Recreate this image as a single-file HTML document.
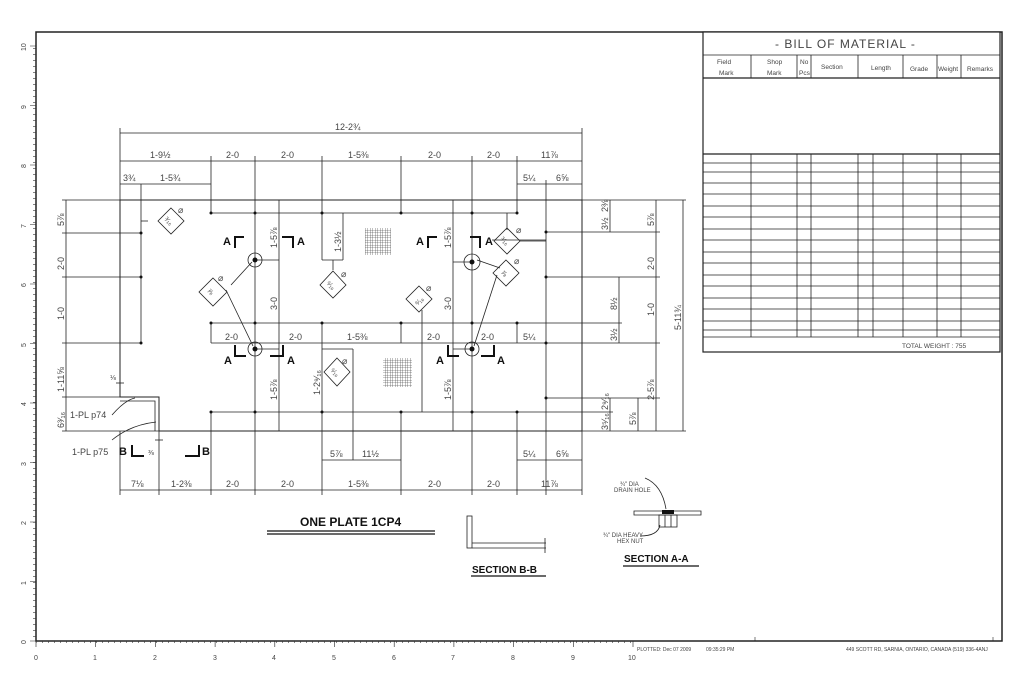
<!DOCTYPE html>
<html><head><meta charset="utf-8"><style>
html,body{margin:0;padding:0;background:#fff;}
svg{display:block;font-family:"Liberation Sans",sans-serif;}
.d{font-size:9px;fill:#444;}
.s{font-size:6px;fill:#444;}
</style></head><body>
<svg width="1024" height="683" viewBox="0 0 1024 683" xmlns="http://www.w3.org/2000/svg">
<g stroke="#222" stroke-width="0.8" fill="none">
<!-- frame -->
<rect x="36" y="32" width="966" height="609" stroke-width="1.5"/>
<!-- plate outline -->
<path d="M120 200 H582 V431 H159 V397 H120 Z" stroke-width="1"/>
<path d="M120 401 H155 V431" stroke-width="0.8"/>
<!-- top dims -->
<line x1="120" y1="133" x2="582" y2="133"/>
<line x1="120" y1="161" x2="582" y2="161"/>
<line x1="120" y1="184" x2="211" y2="184"/>
<line x1="517" y1="184" x2="582" y2="184"/>
<line x1="120" y1="128" x2="120" y2="200"/>
<line x1="582" y1="128" x2="582" y2="200"/>
<line x1="141" y1="184" x2="141" y2="343"/>
<line x1="211" y1="156" x2="211" y2="213"/>
<line x1="255" y1="156" x2="255" y2="495"/>
<line x1="322" y1="156" x2="322" y2="260"/>
<line x1="401" y1="156" x2="401" y2="213"/>
<line x1="472" y1="156" x2="472" y2="495"/>
<line x1="517" y1="156" x2="517" y2="213"/>
<line x1="546" y1="180" x2="546" y2="495"/>
<line x1="211" y1="213" x2="517" y2="213"/>
<line x1="279" y1="200" x2="279" y2="431"/>
<line x1="453" y1="200" x2="453" y2="431"/>
<line x1="343" y1="213" x2="343" y2="260"/>
<line x1="322" y1="260" x2="343" y2="260"/>
<line x1="255" y1="260" x2="279" y2="260"/>
<line x1="453" y1="262" x2="472" y2="262"/>
<line x1="255" y1="349" x2="279" y2="349"/>
<line x1="453" y1="349" x2="472" y2="349"/>
<!-- middle rows -->
<line x1="211" y1="323" x2="546" y2="323"/>
<line x1="211" y1="343" x2="546" y2="343"/>
<line x1="211" y1="323" x2="211" y2="343"/>
<line x1="322" y1="323" x2="322" y2="495"/>
<line x1="401" y1="323" x2="401" y2="343"/>
<line x1="517" y1="323" x2="517" y2="343"/>
<line x1="322" y1="349" x2="353" y2="349"/>
<line x1="353" y1="349" x2="353" y2="460"/>
<line x1="211" y1="412" x2="546" y2="412"/>
<line x1="211" y1="412" x2="211" y2="495"/>
<line x1="401" y1="412" x2="401" y2="495"/>
<line x1="517" y1="412" x2="517" y2="495"/>
<line x1="422" y1="310" x2="422" y2="412"/>
<line x1="492" y1="240" x2="546" y2="240"/>
<!-- bottom dims -->
<line x1="322" y1="460" x2="401" y2="460"/>
<line x1="517" y1="460" x2="582" y2="460"/>
<line x1="582" y1="431" x2="582" y2="495"/>
<line x1="120" y1="490" x2="582" y2="490"/>
<line x1="120" y1="431" x2="120" y2="495"/>
<line x1="159" y1="431" x2="159" y2="495"/>
<line x1="155" y1="440" x2="163" y2="440"/>
<!-- left dims -->
<line x1="66" y1="200" x2="66" y2="431"/>
<line x1="62" y1="200" x2="120" y2="200"/>
<line x1="62" y1="233" x2="141" y2="233"/>
<line x1="62" y1="277" x2="141" y2="277"/>
<line x1="62" y1="343" x2="141" y2="343"/>
<line x1="62" y1="397" x2="120" y2="397"/>
<line x1="62" y1="431" x2="159" y2="431"/>
<line x1="116" y1="383" x2="124" y2="383"/>
<line x1="120" y1="375" x2="120" y2="390"/>
<!-- right dims -->
<line x1="582" y1="200" x2="686" y2="200"/>
<line x1="582" y1="431" x2="686" y2="431"/>
<line x1="546" y1="232" x2="660" y2="232"/>
<line x1="546" y1="277" x2="660" y2="277"/>
<line x1="546" y1="343" x2="660" y2="343"/>
<line x1="546" y1="398" x2="660" y2="398"/>
<line x1="546" y1="323" x2="622" y2="323"/>
<line x1="546" y1="412" x2="613" y2="412"/>
<line x1="683" y1="200" x2="683" y2="431"/>
<line x1="656" y1="200" x2="656" y2="431"/>
<line x1="619" y1="277" x2="619" y2="343"/>
<line x1="610" y1="200" x2="610" y2="232"/>
<line x1="610" y1="398" x2="610" y2="431"/>
<line x1="638" y1="398" x2="638" y2="431"/>
<!-- leaders -->
<line x1="231" y1="285" x2="252" y2="262"/>
<line x1="226" y1="290" x2="253" y2="346"/>
<line x1="500" y1="268" x2="477" y2="260"/>
<line x1="497" y1="275" x2="474" y2="346"/>
<line x1="148" y1="221" x2="141" y2="221"/>
<line x1="333" y1="270" x2="333" y2="260"/>
<line x1="507" y1="230" x2="507" y2="213"/>
<line x1="520" y1="241" x2="546" y2="241"/>
<path d="M112 415 Q125 400 135 398"/>
<path d="M112 440 Q130 425 156 422"/>
<!-- diamonds -->
<path d="M171 208 L184 221 L171 234 L158 221 Z"/>
<path d="M213 278 L227 292 L213 306 L199 292 Z"/>
<path d="M333 271 L346 285 L333 298 L320 285 Z"/>
<path d="M337 358 L350 372 L337 386 L324 372 Z"/>
<path d="M419 286 L432 299 L419 312 L406 299 Z"/>
<path d="M507 228 L520 241 L507 254 L494 241 Z"/>
<path d="M506 260 L519 273 L506 286 L493 273 Z"/>
<!-- bolts -->
<circle cx="255" cy="260" r="7"/><circle cx="255" cy="349" r="7"/>
<circle cx="472" cy="262" r="8"/><circle cx="472" cy="349" r="7"/>
<!-- sections -->
<rect x="467" y="516" width="5" height="32"/>
<path d="M472 543 H546 M472 548 H546 M545 538 V553"/>
<path d="M634 511 H701 V515 H634 Z"/>
<rect x="659" y="515" width="18" height="12"/>
<line x1="665" y1="515" x2="665" y2="527"/><line x1="671" y1="515" x2="671" y2="527"/>
<path d="M645 478 Q662 485 666 509"/>
<path d="M640 536 Q658 536 660 525"/>
</g>
<rect x="662" y="510" width="12" height="4" fill="#111"/>
<!-- dots -->
<g fill="#111">
<circle cx="255" cy="260" r="2.5"/><circle cx="255" cy="349" r="2.5"/><circle cx="472" cy="262" r="2.5"/><circle cx="472" cy="349" r="2.5"/>
<circle cx="141" cy="233" r="1.5"/><circle cx="141" cy="277" r="1.5"/><circle cx="141" cy="343" r="1.5"/>
<circle cx="211" cy="213" r="1.5"/><circle cx="255" cy="213" r="1.5"/><circle cx="322" cy="213" r="1.5"/><circle cx="401" cy="213" r="1.5"/><circle cx="472" cy="213" r="1.5"/><circle cx="517" cy="213" r="1.5"/>
<circle cx="211" cy="323" r="1.5"/><circle cx="255" cy="323" r="1.5"/><circle cx="322" cy="323" r="1.5"/><circle cx="401" cy="323" r="1.5"/><circle cx="472" cy="323" r="1.5"/><circle cx="517" cy="323" r="1.5"/>
<circle cx="211" cy="412" r="1.5"/><circle cx="255" cy="412" r="1.5"/><circle cx="322" cy="412" r="1.5"/><circle cx="401" cy="412" r="1.5"/><circle cx="472" cy="412" r="1.5"/><circle cx="517" cy="412" r="1.5"/>
<circle cx="546" cy="232" r="1.5"/><circle cx="546" cy="277" r="1.5"/><circle cx="546" cy="343" r="1.5"/><circle cx="546" cy="398" r="1.5"/>
</g>
<!-- hatch grids -->
<defs><pattern id="h" width="2.5" height="2.5" patternUnits="userSpaceOnUse"><path d="M0 0H2.5M0 0V2.5" stroke="#333" stroke-width="0.6" fill="none"/></pattern></defs>
<rect x="365" y="228" width="26" height="27" fill="url(#h)"/>
<rect x="383" y="358" width="29" height="29" fill="url(#h)"/>
<!-- section markers -->
<g fill="#111" font-size="11" font-weight="bold">
<text x="223" y="245">A</text><path d="M234 236 h10 v2 h-8 v10 h-2z"/>
<path d="M282 236 h12 v12 h-2 v-10 h-10z"/><text x="297" y="245">A</text>
<text x="224" y="364">A</text><path d="M234 345 v12 h12 v-2 h-10 v-10z"/>
<path d="M270 355 h12 v-10 h2 v12 h-14z"/><text x="287" y="364">A</text>
<text x="416" y="245">A</text><path d="M427 236 h10 v2 h-8 v10 h-2z"/>
<path d="M470 236 h11 v12 h-2 v-10 h-9z"/><text x="485" y="245">A</text>
<text x="436" y="364">A</text><path d="M447 345 v12 h12 v-2 h-10 v-10z"/>
<path d="M481 355 h12 v-10 h2 v12 h-14z"/><text x="497" y="364">A</text>
<text x="119" y="455">B</text><path d="M131 445 v12 h13 v-2 h-11 v-10z"/>
<path d="M185 455 h13 v-10 h2 v12 h-15z"/><text x="202" y="455">B</text>
</g>
<!-- dim text -->
<g class="d">
<text x="335" y="130">12-2¾</text>
<text x="150" y="158">1-9½</text><text x="226" y="158">2-0</text><text x="281" y="158">2-0</text><text x="348" y="158">1-5⅜</text><text x="428" y="158">2-0</text><text x="487" y="158">2-0</text><text x="541" y="158">11⅞</text>
<text x="123" y="181">3¾</text><text x="160" y="181">1-5¾</text><text x="523" y="181">5¼</text><text x="556" y="181">6⅝</text>
<text x="225" y="340">2-0</text><text x="289" y="340">2-0</text><text x="347" y="340">1-5⅜</text><text x="427" y="340">2-0</text><text x="481" y="340">2-0</text><text x="523" y="340">5¼</text>
<text x="330" y="457">5⅞</text><text x="362" y="457">11½</text><text x="523" y="457">5¼</text><text x="556" y="457">6⅝</text>
<text x="131" y="487">7⅛</text><text x="171" y="487">1-2⅜</text><text x="226" y="487">2-0</text><text x="281" y="487">2-0</text><text x="348" y="487">1-5⅜</text><text x="428" y="487">2-0</text><text x="487" y="487">2-0</text><text x="541" y="487">11⅞</text>
<text x="70" y="418">1-PL p74</text><text x="72" y="455">1-PL p75</text>
<text x="110" y="380" font-size="7">⅛</text><text x="148" y="455" font-size="7">⅜</text>
<text x="178" y="213">⌀</text><text x="218" y="281">⌀</text><text x="341" y="277">⌀</text><text x="342" y="364">⌀</text><text x="426" y="291">⌀</text><text x="516" y="233">⌀</text><text x="514" y="264">⌀</text>
<text x="165" y="225" font-size="7" transform="rotate(45 171 221)">³⁄₁₆</text>
<text x="208" y="296" font-size="7" transform="rotate(45 213 292)">⅞</text>
<text x="327" y="289" font-size="7" transform="rotate(45 333 285)">⁹⁄₁₆</text>
<text x="331" y="376" font-size="7" transform="rotate(45 337 372)">⁹⁄₁₆</text>
<text x="413" y="303" font-size="7" transform="rotate(-45 419 299)">⁹⁄₁₆</text>
<text x="501" y="245" font-size="7" transform="rotate(45 507 241)">³⁄₁₆</text>
<text x="502" y="277" font-size="7" transform="rotate(45 506 273)">⅞</text>
</g>
<g class="d">
<text transform="translate(64 226) rotate(-90)">5⅞</text>
<text transform="translate(64 270) rotate(-90)">2-0</text>
<text transform="translate(64 320) rotate(-90)">1-0</text>
<text transform="translate(64 392) rotate(-90)">1-11⅝</text>
<text transform="translate(64 428) rotate(-90)">6³⁄₁₆</text>
<text transform="translate(277 248) rotate(-90)">1-5⅞</text>
<text transform="translate(277 310) rotate(-90)">3-0</text>
<text transform="translate(277 400) rotate(-90)">1-5⅞</text>
<text transform="translate(341 252) rotate(-90)">1-3½</text>
<text transform="translate(320 395) rotate(-90)">1-2⁹⁄₁₆</text>
<text transform="translate(451 248) rotate(-90)">1-5⅞</text>
<text transform="translate(451 310) rotate(-90)">3-0</text>
<text transform="translate(451 400) rotate(-90)">1-5⅞</text>
<text transform="translate(608 212) rotate(-90)">2⅜</text>
<text transform="translate(608 230) rotate(-90)">3½</text>
<text transform="translate(654 226) rotate(-90)">5⅞</text>
<text transform="translate(654 270) rotate(-90)">2-0</text>
<text transform="translate(654 316) rotate(-90)">1-0</text>
<text transform="translate(654 400) rotate(-90)">2-5⅞</text>
<text transform="translate(617 310) rotate(-90)">8½</text>
<text transform="translate(617 341) rotate(-90)">3½</text>
<text transform="translate(681 330) rotate(-90)">5-11¾</text>
<text transform="translate(608 410) rotate(-90)">2⁹⁄₁₆</text>
<text transform="translate(608 430) rotate(-90)">3⁵⁄₁₆</text>
<text transform="translate(636 425) rotate(-90)">5⅞</text>
</g>
<!-- titles -->
<g fill="#111" font-weight="bold">
<text x="300" y="526" font-size="12">ONE PLATE 1CP4</text>
<text x="472" y="573" font-size="10">SECTION B-B</text>
<text x="624" y="562" font-size="10">SECTION A-A</text>
</g>
<g stroke="#111" stroke-width="1.3">
<line x1="267" y1="531" x2="435" y2="531"/><line x1="267" y1="534" x2="435" y2="534"/>
<line x1="471" y1="576" x2="546" y2="576"/><line x1="623" y1="566" x2="699" y2="566"/>
</g>
<g class="s"><text x="620" y="486">¾" DIA</text><text x="614" y="492">DRAIN HOLE</text><text x="603" y="537">¾" DIA HEAVY</text><text x="617" y="543">HEX NUT</text></g>
<!-- BOM -->
<g stroke="#222" stroke-width="0.8" fill="none">
<rect x="703" y="32" width="297" height="320" fill="#fff" stroke-width="1.2"/>
<line x1="703" y1="55" x2="1000" y2="55"/>
<line x1="703" y1="78" x2="1000" y2="78" stroke-width="1.2"/>
<line x1="703" y1="154" x2="1000" y2="154" stroke-width="1.2"/>
<line x1="703" y1="337" x2="1000" y2="337"/>
<path d="M751 55V78M797 55V78M811 55V78M858 55V78M903 55V78M937 55V78M961 55V78"/>
<path d="M751 154V337M797 154V337M811 154V337M858 154V337M873 154V337M903 154V337M937 154V337M961 154V337"/>
<path d="M703 163H1000M703 172H1000M703 183H1000M703 194H1000M703 206H1000M703 217H1000M703 229H1000M703 240H1000M703 252H1000M703 263H1000M703 275H1000M703 286H1000M703 298H1000M703 309H1000M703 321H1000M703 330H1000"/>
</g>
<g fill="#444">
<text x="775" y="48" font-size="12" letter-spacing="1">- BILL OF MATERIAL -</text>
<g font-size="6.5"><text x="717" y="64">Field</text><text x="719" y="75">Mark</text><text x="767" y="64">Shop</text><text x="767" y="75">Mark</text><text x="800" y="64">No</text><text x="799" y="75">Pcs</text><text x="821" y="69">Section</text><text x="871" y="70">Length</text><text x="910" y="71">Grade</text><text x="938" y="71">Weight</text><text x="967" y="71">Remarks</text>
<text x="902" y="348">TOTAL WEIGHT : 755</text></g>
</g>
<!-- rulers -->
<g stroke="#222" stroke-width="0.6">
<path d="M36 641v6M95.7 641v6M155.4 641v6M215.1 641v6M274.8 641v6M334.5 641v6M394.2 641v6M453.9 641v6M513.6 641v6M573.3 641v6M633 641v6"/>
<path d="M36 641h-6M36 581.5h-6M36 522h-6M36 462.5h-6M36 403h-6M36 343.5h-6M36 284h-6M36 224.5h-6M36 165h-6M36 105.5h-6M36 46h-6"/>
<line x1="755" y1="637" x2="755" y2="641"/><line x1="993" y1="637" x2="993" y2="641"/>
</g>
<defs><pattern id="tx" width="6" height="4" patternUnits="userSpaceOnUse"><line x1="0.3" y1="0" x2="0.3" y2="3" stroke="#333" stroke-width="0.6"/></pattern>
<pattern id="ty" width="4" height="6" patternUnits="userSpaceOnUse"><line x1="1" y1="0.3" x2="4" y2="0.3" stroke="#333" stroke-width="0.6"/></pattern></defs>
<rect x="36" y="641" width="597" height="3" fill="url(#tx)"/>
<rect x="32" y="46" width="4" height="595" fill="url(#ty)"/>
<g font-size="7" fill="#444">
<text x="34" y="660">0</text><text x="93" y="660">1</text><text x="153" y="660">2</text><text x="213" y="660">3</text><text x="272" y="660">4</text><text x="332" y="660">5</text><text x="392" y="660">6</text><text x="451" y="660">7</text><text x="511" y="660">8</text><text x="571" y="660">9</text><text x="628" y="660">10</text>
<text x="637" y="651" font-size="5">PLOTTED: Dec 07 2009</text><text x="706" y="651" font-size="5">09:35:29 PM</text>
<text x="846" y="651" font-size="5">449 SCOTT RD, SARNIA, ONTARIO, CANADA (519) 336-4ANJ</text>
<text transform="translate(26 644) rotate(-90)">0</text><text transform="translate(26 585) rotate(-90)">1</text><text transform="translate(26 525) rotate(-90)">2</text><text transform="translate(26 466) rotate(-90)">3</text><text transform="translate(26 406) rotate(-90)">4</text><text transform="translate(26 347) rotate(-90)">5</text><text transform="translate(26 287) rotate(-90)">6</text><text transform="translate(26 228) rotate(-90)">7</text><text transform="translate(26 168) rotate(-90)">8</text><text transform="translate(26 109) rotate(-90)">9</text><text transform="translate(26 51) rotate(-90)">10</text>
</g>
</svg>
</body></html>
